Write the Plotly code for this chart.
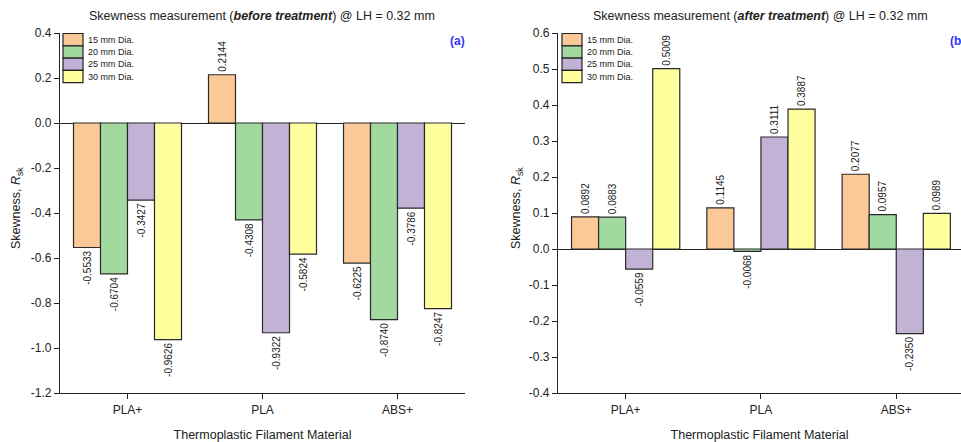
import plotly.graph_objects as go

# Materials and print diameters
materials = ["PLA+", "PLA", "ABS+"]
diameters = ["15 mm Dia.", "20 mm Dia.", "25 mm Dia.", "30 mm Dia."]

# Skewness Rsk before treatment, one list per diameter (PLA+, PLA, ABS+)
before_15 = [-0.5533, 0.2144, -0.6225]
before_20 = [-0.6704, -0.4308, -0.8740]
before_25 = [-0.3427, -0.9322, -0.3786]
before_30 = [-0.9626, -0.5824, -0.8247]

# Skewness Rsk after treatment
after_15 = [0.0892, 0.1145, 0.2077]
after_20 = [0.0883, -0.0068, 0.0957]
after_25 = [-0.0559, 0.3111, -0.2350]
after_30 = [0.5009, 0.3887, 0.0989]

# Tick values / labels
left_ticks = [0.4, 0.2, 0.0, -0.2, -0.4, -0.6, -0.8, -1.0, -1.2]
left_ticktext = ["0.4", "0.2", "0.0", "-0.2", "-0.4", "-0.6", "-0.8", "-1.0", "-1.2"]
right_ticks = [0.6, 0.5, 0.4, 0.3, 0.2, 0.1, 0.0, -0.1, -0.2, -0.3, -0.4]
right_ticktext = ["0.6", "0.5", "0.4", "0.3", "0.2", "0.1", "0.0", "-0.1", "-0.2", "-0.3", "-0.4"]

colors = ["#FBC898", "#A1D99F", "#C2B3D6", "#FFFF9E"]

W, H = 961, 442
FONT = "Liberation Sans, Arial, sans-serif"


def px_x(p):
    return p / W


def px_y(p):
    return 1 - p / H


fig = go.Figure()

panels = [
    ("x", "y", [before_15, before_20, before_25, before_30]),
    ("x2", "y2", [after_15, after_20, after_25, after_30]),
]

for xa, ya, series in panels:
    for name, vals, col in zip(diameters, series, colors):
        fig.add_trace(go.Bar(
            x=materials, y=vals, name=name,
            xaxis=xa, yaxis=ya,
            marker=dict(color=col, line=dict(color="#2a2a2a", width=1.2)),
            texttemplate="%{y:.4f}", textposition="outside",
            textangle=-90, constraintext="none", cliponaxis=False,
            textfont=dict(family=FONT, size=10, color="#222"),
            showlegend=False,
        ))

axis_common = dict(
    automargin=False,
    showline=True, linecolor="#222", linewidth=1.3,
    ticks="outside", ticklen=5, tickwidth=1.3, tickcolor="#222",
    showgrid=False,
    tickfont=dict(family=FONT, size=12, color="#222"),
)

y_dom = [px_y(393), px_y(33)]
axis_title_font = dict(family=FONT, size=12.5, color="#222")

fig.update_layout(
    width=W, height=H,
    margin=dict(l=0, r=0, t=0, b=0),
    plot_bgcolor="white", paper_bgcolor="white",
    barmode="group", bargap=0.2, bargroupgap=0,
    xaxis=dict(domain=[px_x(60), px_x(465)], range=[-0.5, 2.5],
               title=dict(text="Thermoplastic Filament Material", font=axis_title_font),
               anchor="y", **axis_common),
    yaxis=dict(domain=y_dom, range=[-1.2, 0.4], anchor="x",
               tickvals=left_ticks, ticktext=left_ticktext,
               zeroline=True, zerolinecolor="#222", zerolinewidth=1.3,
               **axis_common),
    xaxis2=dict(domain=[px_x(558), 1.0], range=[-0.5, -0.5 + 403 / 135.3],
                title=dict(text="Thermoplastic Filament Material", font=axis_title_font),
                anchor="y2", **axis_common),
    yaxis2=dict(domain=y_dom, range=[-0.4, 0.6], anchor="x2",
                tickvals=right_ticks, ticktext=right_ticktext,
                zeroline=True, zerolinecolor="#222", zerolinewidth=1.3,
                **axis_common),
)

annotations = []
shapes = []

# Chart titles
titles = [
    (262, "Skewness measurement (<b><i>before treatment</i></b>) @ LH = 0.32 mm"),
    (760, "Skewness measurement (<b><i>after treatment</i></b>) @ LH = 0.32 mm"),
]
for cx, txt in titles:
    annotations.append(dict(
        x=px_x(cx), y=px_y(16), xref="paper", yref="paper",
        text=txt, showarrow=False, xanchor="center", yanchor="middle",
        font=dict(family=FONT, size=12.5, color="#222"),
    ))

# Vertical y-axis titles
for cx in (17, 517):
    annotations.append(dict(
        x=px_x(cx), y=px_y(208), xref="paper", yref="paper",
        text="Skewness, <i>R</i><sub>sk</sub>", showarrow=False, textangle=-90,
        xanchor="center", yanchor="middle", font=axis_title_font,
    ))

# Panel tags
for cx, tag in [(457, "(a)"), (957, "(b)")]:
    annotations.append(dict(
        x=px_x(cx), y=px_y(41), xref="paper", yref="paper",
        text="<b>" + tag + "</b>", showarrow=False,
        xanchor="center", yanchor="middle",
        font=dict(family=FONT, size=12, color="#3333FF"),
    ))

# Legend swatches with labels, one block per panel
for left in (63, 562):
    top = 33.5
    step = 12.3
    for i, (name, col) in enumerate(zip(diameters, colors)):
        y0 = top + i * step
        shapes.append(dict(
            type="rect", xref="paper", yref="paper",
            x0=px_x(left), x1=px_x(left + 20),
            y0=px_y(y0), y1=px_y(y0 + step),
            fillcolor=col, line=dict(color="#222", width=1.2),
        ))
        annotations.append(dict(
            x=px_x(left + 23), y=px_y(y0 + step / 2), xref="paper", yref="paper",
            text=name, showarrow=False, xanchor="left", yanchor="middle",
            font=dict(family=FONT, size=9, color="#222"),
        ))

fig.update_layout(annotations=annotations, shapes=shapes)

fig.write_html("out.html")
